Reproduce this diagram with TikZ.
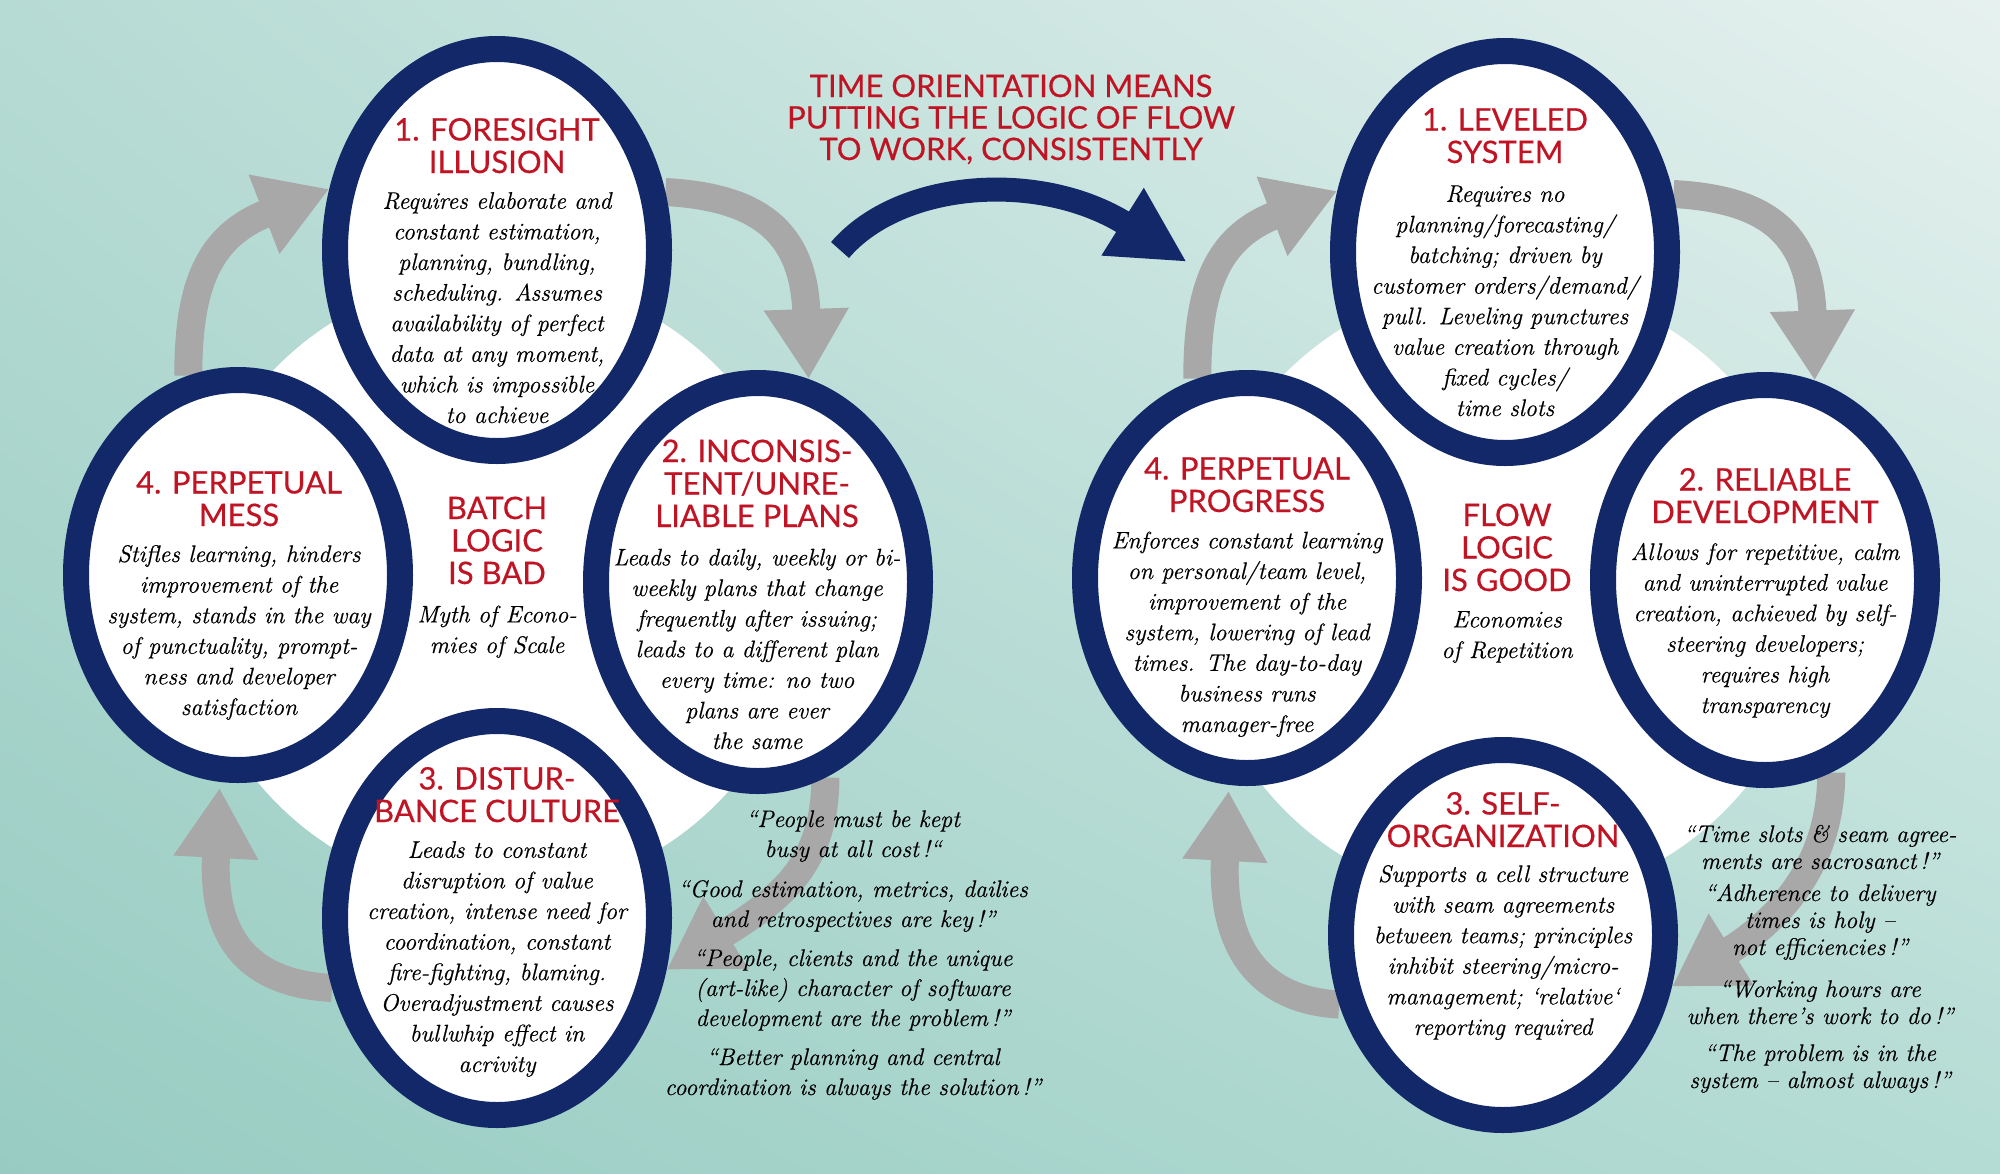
\documentclass[tikz,border=0pt]{standalone}
\usepackage{fontspec}
\usetikzlibrary{shapes.geometric,arrows.meta,backgrounds,shadings}
\newfontfamily\headfont[FakeBold=0.4]{Lato}
\newfontfamily\bodyfont[FakeBold=0.5]{Latin Modern Roman}
\definecolor{navy}{RGB}{18,40,104}
\definecolor{redtxt}{RGB}{192,20,36}
\definecolor{greyarr}{RGB}{168,168,168}
\definecolor{bgUL}{HTML}{B6DBD4}
\definecolor{bgUR}{HTML}{E6F1EF}
\definecolor{bgLL}{HTML}{98CCC2}
\definecolor{bgLR}{HTML}{B4DCD4}
\tikzset{
  ring/.style={ellipse, draw=navy, line width=26pt, fill=white, inner sep=0pt,
    minimum width=324pt, minimum height=390pt},
  head/.style={text=redtxt, font=\headfont\fontsize{31}{32.5}\selectfont, align=center,
    inner sep=0pt, anchor=base},
  body/.style={text=black, font=\bodyfont\itshape\fontsize{24}{30.6}\selectfont, align=center,
    inner sep=0pt, anchor=base},
  quoteL/.style={text=black, font=\bodyfont\itshape\fontsize{24}{30}\selectfont, align=center,
    inner sep=0pt, anchor=base},
  quoteR/.style={text=black, font=\bodyfont\itshape\fontsize{24}{27}\selectfont, align=center,
    inner sep=0pt, anchor=base},
  titletext/.style={text=redtxt, font=\headfont\fontsize{31}{31.5}\selectfont, align=center,
    inner sep=0pt, anchor=base},
  greyarrow/.style={draw=greyarr, line width=28pt, -{Triangle[length=70pt,width=80pt]}},
  bigarrow/.style={draw=navy, line width=24pt, -{Triangle[length=76pt,width=74pt]}}
}
\begin{document}
\begin{tikzpicture}[x=1pt,y=-1pt]
\useasboundingbox (0,0) rectangle (2000,1173);
% ellipses
\node[ring, minimum height=402pt] (L1) at (497,250) {};
\node[ring] (L4) at (238,575) {};
\node[ring, minimum height=398pt] (L2) at (758,582) {};
\node[ring, minimum height=394pt] (L3) at (497,918) {};
\node[ring, minimum height=402pt] (R1) at (1505,252) {};
\node[ring] (R4) at (1247,578) {};
\node[ring] (R2) at (1765,580) {};
\node[ring, minimum height=370pt] (R3) at (1503,935) {};
\begin{scope}[on background layer]
  \shade[upper left=bgUL, upper right=bgUR, lower left=bgLL, lower right=bgLR]
    (0,0) rectangle (2000,1173);
  \fill[white] (497,585) circle[radius=310];
  \fill[white] (1505,592) circle[radius=310];
  % left cycle
  \draw[greyarrow] (L4.104) .. controls +(0,-90) and +(-121,47) .. (L1.160);
  \draw[greyarrow] (L1.19) .. controls +(90,5) and +(-5,-150) .. (L2.76);
  \draw[greyarrow] (L2.289) .. controls +(0,90) and +(110,-69) .. (L3.343);
  \draw[greyarrow, shorten >=6pt] (L3.203) .. controls +(-90,-5) and +(-8,150) .. (L4.265);
  % right cycle
  \draw[greyarrow] (R4.104) .. controls +(0,-90) and +(-121,47) .. (R1.160);
  \draw[greyarrow] (R1.19) .. controls +(90,5) and +(-5,-150) .. (R2.76);
  \draw[greyarrow] (R2.289) .. controls +(0,90) and +(110,-69) .. (R3.343);
  \draw[greyarrow, shorten >=6pt] (R3.203) .. controls +(-90,-5) and +(-8,150) .. (R4.265);
\end{scope}
% title and big arrow (base anchor = last line)
\node[titletext] (title) at (1011,160) {TIME ORIENTATION MEANS\\PUTTING THE LOGIC OF FLOW\\TO WORK, CONSISTENTLY};
\coordinate (bs) at (840,250);
\coordinate (be) at (1187,262);
\draw[bigarrow] (bs) .. controls (900,180) and (1040,170) .. (be);
% left texts
\node[head] (L1h) at (497,173) {1. FORESIGHT\\ILLUSION};
\node[body] (L1b) at (497,423) {Requires elaborate and\\constant estimation,\\planning, bundling,\\scheduling. Assumes\\availability of perfect\\data at any moment,\\which is impossible\\to achieve};
\node[head] (L2h) at (757,527) {2. INCONSIS-\\TENT/UNRE-\\LIABLE PLANS};
\node[body] (L2b) at (757,749) {Leads to daily, weekly or bi-\\weekly plans that change\\frequently after issuing;\\leads to a different plan\\every time: no two\\plans are ever\\the same};
\node[head] (L3h) at (497,822) {3. DISTUR-\\BANCE CULTURE};
\node[body] (L3b) at (497,1072) {Leads to constant\\disruption of value\\creation, intense need for\\coordination, constant\\fire-fighting, blaming.\\Overadjustment causes\\bullwhip effect in\\acrivity};
\node[head] (L4h) at (239,526) {4. PERPETUAL\\MESS};
\node[body] (L4b) at (239,715) {Stifles learning, hinders\\improvement of the\\system, stands in the way\\of punctuality, prompt-\\ness and developer\\satisfaction};
\node[head] (Lc) at (497,584) {BATCH\\LOGIC\\IS BAD};
\node[body] (Lcb) at (497,653) {Myth of Econo-\\mies of Scale};
% left quotes
\node[quoteL] (q1) at (853,857) {“People must be kept\\busy at all cost\,!“};
\node[quoteL] (q2) at (853,927) {“Good estimation, metrics, dailies\\and retrospectives are key\,!”};
\node[quoteL] (q3) at (853,1026) {“People, clients and the unique\\(art-like) character of software\\development are the problem\,!”};
\node[quoteL] (q4) at (853,1095) {“Better planning and central\\coordination is always the solution\,!”};
% right texts
\node[head] (R1h) at (1505,163) {1. LEVELED\\SYSTEM};
\node[body] (R1b) at (1505,416) {Requires no\\planning/forecasting/\\batching; driven by\\customer orders/demand/\\pull. Leveling punctures\\value creation through\\fixed cycles/\\time slots};
\node[head] (R2h) at (1765,523) {2. RELIABLE\\DEVELOPMENT};
\node[body] (R2b) at (1765,713) {Allows for repetitive, calm\\and uninterrupted value\\creation, achieved by self-\\steering developers;\\requires high\\transparency};
\node[head] (R3h) at (1503,847) {3. SELF-\\ORGANIZATION};
\node[body] (R3b) at (1503,1035) {Supports a cell structure\\with seam agreements\\between teams; principles\\inhibit steering/micro-\\management; ‘relative‘\\reporting required};
\node[head] (R4h) at (1247,512) {4. PERPETUAL\\PROGRESS};
\node[body] (R4b) at (1247,732) {Enforces constant learning\\on personal/team level,\\improvement of the\\system, lowering of lead\\times. The day-to-day\\business runs\\manager-free};
\node[head] (Rc) at (1507,591) {FLOW\\LOGIC\\IS GOOD};
\node[body] (Rcb) at (1507,658) {Economies\\of Repetition};
% right quotes
\node[quoteR] (p1) at (1820,869) {“Time slots \& seam agree-\\ments are sacrosanct\,!”};
\node[quoteR] (p2) at (1820,955) {“Adherence to delivery\\times is holy –\\not efficiencies\,!”};
\node[quoteR] (p3) at (1820,1024) {“Working hours are\\when there’s work to do\,!”};
\node[quoteR] (p4) at (1820,1088) {“The problem is in the\\system – almost always\,!”};
\end{tikzpicture}
\end{document}
